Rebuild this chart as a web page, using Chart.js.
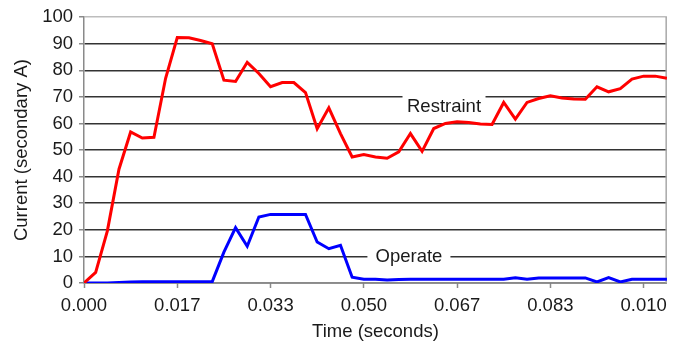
<!DOCTYPE html>
<html>
<head>
<meta charset="utf-8">
<script src="https://cdn.jsdelivr.net/npm/chart.js@4.4.1/dist/chart.umd.min.js"></script>
<style>
  html, body { margin: 0; padding: 0; background: #fff; }
  #wrap { width: 674px; height: 341px; }
</style>
</head>
<body>
<div id="wrap"><canvas id="currentchart"></canvas></div>
<script>
Chart.defaults.font.family = '"Liberation Sans", Arial, sans-serif';
Chart.defaults.font.size = 18.5;
Chart.defaults.color = '#1a1a1a';

// one sample every 1/480 s, 8 samples per cycle
const samples = [0,1,2,3,4,5,6,7,8,9,10,11,12,13,14,15,16,17,18,19,20,21,22,23,24,25,
                 26,27,28,29,30,31,32,33,34,35,36,37,38,39,40,41,42,43,44,45,46,47,48,49,50]

const restraint = [0, 4, 19.5, 42.8, 56.8, 54.5, 54.8, 77, 92.3, 92.2,
                   91.2, 90, 76.3, 75.8, 83, 78.8, 73.8, 75.4, 75.4, 71.6,
                   58, 65.9, 56.2, 47.4, 48.3, 47.4, 46.9, 49.3, 56.2, 49.5,
                   58.1, 60, 60.6, 60.4, 59.8, 59.6, 67.9, 61.6, 67.9, 69.4,
                   70.4, 69.6, 69.2, 69.1, 73.8, 71.9, 73.1, 76.7, 77.8, 77.8, 77]

const operate = [0, 0, 0, 0.2, 0.4, 0.5, 0.5, 0.5, 0.5, 0.5,
                 0.5, 0.5, 11.6, 20.8, 13.8, 24.8, 25.8, 25.8, 25.8, 25.8,
                 15.4, 12.9, 14.2, 2.2, 1.4, 1.4, 1.1, 1.3, 1.4, 1.4,
                 1.4, 1.4, 1.4, 1.4, 1.4, 1.4, 1.4, 2.0, 1.4, 1.9,
                 1.9, 1.9, 1.9, 1.9, 0.4, 2.0, 0.4, 1.4, 1.4, 1.4, 1.4]

const timeTicks = ['0.000', '0.017', '0.033', '0.050', '0.067', '0.083', '0.010']
const tickEvery = 8

// labels sitting on the grid with a white patch behind them
const seriesLabels = {
    id: 'seriesLabels',
    beforeDatasetsDraw(chart, args, opts) {
        const c = chart.ctx;
        const xs = chart.scales.x, ys = chart.scales.y;
        c.save();
        c.font = '18.5px "Liberation Sans", Arial, sans-serif';
        c.textBaseline = 'middle';
        c.textAlign = 'center';
        opts.items.forEach(it => {
            const px = xs.getPixelForValue(it.x);
            const py = ys.getPixelForValue(it.y);
            c.fillStyle = '#fff';
            c.fillRect(px - opts.boxWidth / 2, py - opts.boxHeight / 2, opts.boxWidth, opts.boxHeight);
            c.fillStyle = '#1a1a1a';
            c.fillText(it.text, px, py);
        });
        // right frame line
        const a = chart.chartArea;
        c.strokeStyle = '#a8a8a8';
        c.lineWidth = 1.5;
        c.beginPath();
        c.moveTo(a.right - 0.75, a.top);
        c.lineTo(a.right - 0.75, a.bottom);
        c.stroke();
        c.restore();
    }
};

const data = {
    datasets: [{
        label: 'Restraint',
        data: restraint.map((v, i) => ({x: samples[i], y: v})),
        borderColor: '#ff0000',
        borderWidth: 3,
        pointRadius: 0,
        tension: 0,
    }, {
        label: 'Operate',
        data: operate.map((v, i) => ({x: samples[i], y: v})),
        borderColor: '#0000ff',
        borderWidth: 3,
        pointRadius: 0,
        tension: 0,
    }],
};

const config = {
    type: 'line',
    data: data,
    plugins: [seriesLabels],
    options: {
        responsive: true,
        maintainAspectRatio: false,
        animation: false,
        layout: { padding: { top: 17, right: 6, left: 0, bottom: 0 } },
        plugins: {
            legend: { display: false },
            tooltip: { enabled: false },
            seriesLabels: {
                boxWidth: 83,
                boxHeight: 26,
                items: [
                    { text: 'Restraint', x: 30.88, y: 66.1 },
                    { text: 'Operate', x: 27.87, y: 10 },
                ]
            }
        },
        scales: {
            x: {
                type: 'linear',
                min: 0,
                max: samples[samples.length - 1],
                afterBuildTicks: scale => {
                    scale.ticks = timeTicks.map((t, k) => ({ value: k * tickEvery }));
                },
                afterFit: scale => { scale.height = 58; },
                ticks: {
                    autoSkip: false,
                    maxRotation: 0,
                    padding: 7,
                    callback: value => timeTicks[Math.round(value / tickEvery)]
                },
                grid: {
                    drawOnChartArea: false,
                    drawTicks: true,
                    tickLength: 5,
                    tickColor: '#8a8a8a',
                    tickWidth: 1.5
                },
                border: { color: '#8a8a8a', width: 1.5 },
                title: {
                    display: true,
                    text: 'Time (seconds)',
                    padding: { top: 0, bottom: -2 }
                }
            },
            y: {
                min: 0,
                max: 100,
                afterFit: scale => { scale.width = 84; },
                ticks: { stepSize: 10, padding: 6 },
                grid: {
                    color: ctx => (ctx.tick && ctx.tick.value === 100) ? '#bdbdbd' : '#333333',
                    lineWidth: 1.5,
                    tickLength: 5,
                    tickColor: '#8a8a8a'
                },
                border: { color: '#8a8a8a', width: 1.5 },
                title: {
                    display: true,
                    text: 'Current (secondary A)',
                    padding: { top: 11, bottom: 0 }
                }
            }
        }
    }
};

const chart = new Chart(document.getElementById('currentchart'), config);
</script>
</body>
</html>
